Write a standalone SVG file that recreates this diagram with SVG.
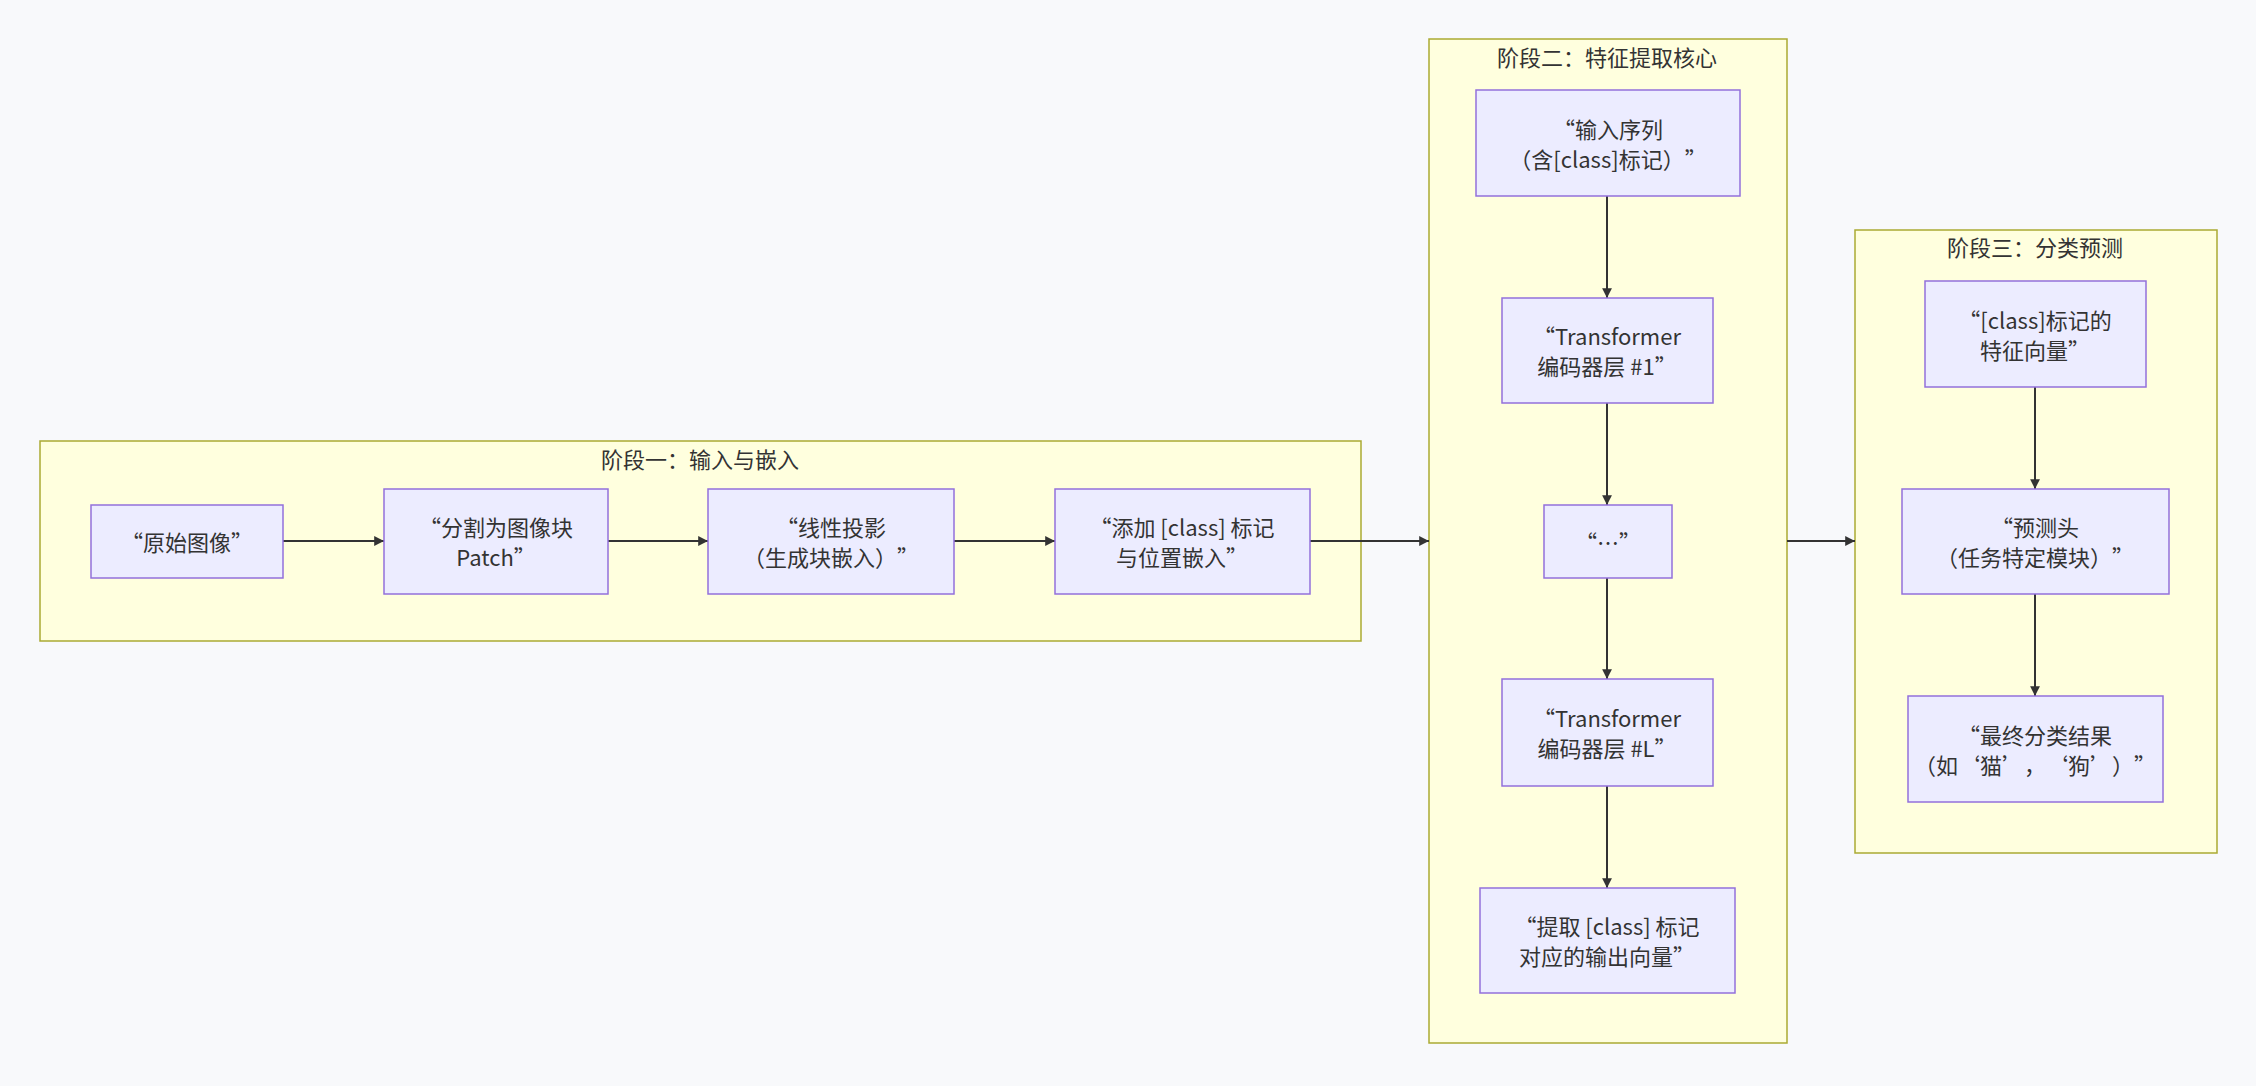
<svg xmlns="http://www.w3.org/2000/svg" width="2256" height="1086" viewBox="0 0 2256 1086">
<style>
.bg{fill:#f8f9fb}
.cluster{fill:#ffffde;stroke:#aaaa33;stroke-width:1.5}
.node rect{fill:#ececff;stroke:#9370db;stroke-width:1.5}
text{font-family:"Noto Sans CJK SC","Noto Sans",sans-serif;font-size:22px;fill:#333333;text-anchor:middle;dominant-baseline:central;text-spacing-trim:space-all}
.edge{stroke:#333333;stroke-width:2;fill:none;marker-end:url(#arrow)}
</style>
<defs>
<marker id="arrow" viewBox="0 0 10 10" refX="10" refY="5" markerWidth="7" markerHeight="7" markerUnits="userSpaceOnUse" orient="auto" style="overflow:visible">
<path d="M0,0 L10,5 L0,10 z" fill="#333333" transform="scale(1.4) translate(-2.9,-1.45)"/>
</marker>
</defs>
<rect class="bg" x="0" y="0" width="2256" height="1086"/>
<g id="clusters">
<g id="stage1"><rect class="cluster" x="40" y="441" width="1321" height="200"/><text x="700" y="458">阶段一：输入与嵌入</text></g>
<g id="stage2"><rect class="cluster" x="1429" y="39" width="358" height="1004"/><text x="1607" y="56">阶段二：特征提取核心</text></g>
<g id="stage3"><rect class="cluster" x="1855" y="230" width="362" height="623"/><text x="2035" y="246">阶段三：分类预测</text></g>
</g>
<g id="edges">
<path class="edge" d="M283,541 L384,541"/>
<path class="edge" d="M608,541 L708,541"/>
<path class="edge" d="M954,541 L1055,541"/>
<path class="edge" d="M1310,541 L1429,541"/>
<path class="edge" d="M1787,541 L1855,541"/>
<path class="edge" d="M1607,196 L1607,298"/>
<path class="edge" d="M1607,403 L1607,505"/>
<path class="edge" d="M1607,578 L1607,679"/>
<path class="edge" d="M1607,786 L1607,888"/>
<path class="edge" d="M2035,387 L2035,489"/>
<path class="edge" d="M2035,594 L2035,696"/>
</g>
<g id="n1" class="node"><rect x="91" y="505" width="192" height="73"/><text x="187" y="541">“原始图像”</text></g>
<g id="n2" class="node"><rect x="384" y="489" width="224" height="105"/><text x="496" y="526">“分割为图像块</text><text x="496" y="556">Patch”</text></g>
<g id="n3" class="node"><rect x="708" y="489" width="246" height="105"/><text x="831" y="526">“线性投影</text><text x="831" y="556">（生成块嵌入）”</text></g>
<g id="n4" class="node"><rect x="1055" y="489" width="255" height="105"/><text x="1182" y="526">“添加 [class] 标记</text><text x="1182" y="556">与位置嵌入”</text></g>
<g id="n5" class="node"><rect x="1476" y="90" width="264" height="106"/><text x="1608" y="128">“输入序列</text><text x="1608" y="158">（含[class]标记）”</text></g>
<g id="n6" class="node"><rect x="1502" y="298" width="211" height="105"/><text x="1607" y="335">“Transformer</text><text x="1607" y="365">编码器层 #1”</text></g>
<g id="n7" class="node"><rect x="1544" y="505" width="128" height="73"/><text x="1608" y="541">“…”</text></g>
<g id="n8" class="node"><rect x="1502" y="679" width="211" height="107"/><text x="1607" y="717">“Transformer</text><text x="1607" y="747">编码器层 #L”</text></g>
<g id="n9" class="node"><rect x="1480" y="888" width="255" height="105"/><text x="1607" y="925">“提取 [class] 标记</text><text x="1607" y="955">对应的输出向量”</text></g>
<g id="n10" class="node"><rect x="1925" y="281" width="221" height="106"/><text x="2035" y="319">“[class]标记的</text><text x="2035" y="349">特征向量”</text></g>
<g id="n11" class="node"><rect x="1902" y="489" width="267" height="105"/><text x="2035" y="526">“预测头</text><text x="2035" y="556">（任务特定模块）”</text></g>
<g id="n12" class="node"><rect x="1908" y="696" width="255" height="106"/><text x="2035" y="734">“最终分类结果</text><text x="2035" y="764">（如‘猫’，‘狗’）”</text></g>
</svg>
